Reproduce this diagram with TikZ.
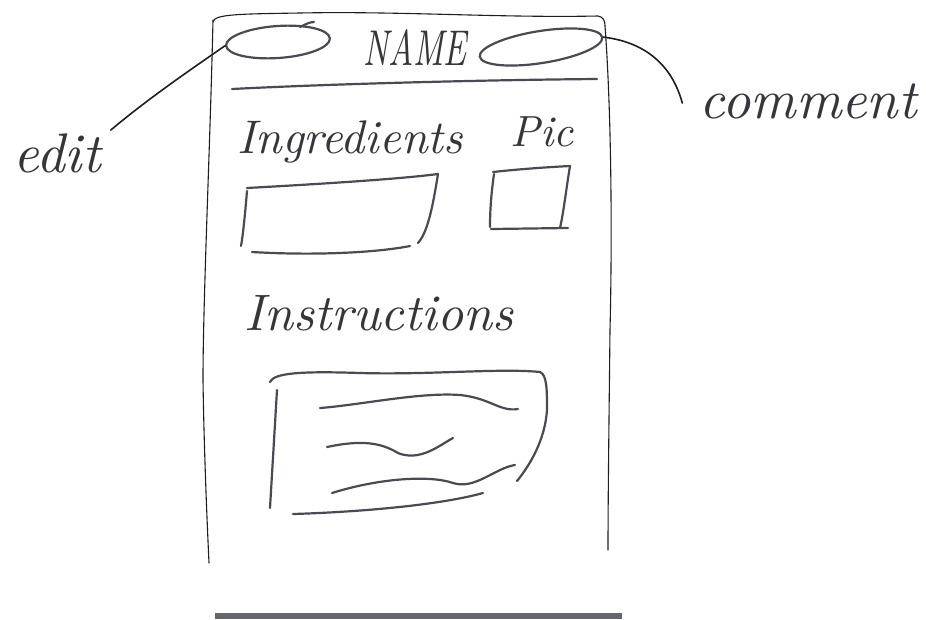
\documentclass[tikz,border=0pt]{standalone}
\usepackage{graphicx}
\usetikzlibrary{shapes.geometric}
\definecolor{ink}{HTML}{1E1E22}
\definecolor{lead}{HTML}{4A4A55}
\definecolor{txt}{HTML}{35353C}
\newcommand\hw[2]{\resizebox{#1}{!}{\itshape #2}}
\tikzset{
  pen/.style={draw=ink, line width=1.1pt, line cap=round, line join=round},
  pencil/.style={draw=lead, line width=2.2pt, line cap=round, line join=round},
  label/.style={text=txt, inner sep=0pt},
  button/.style={ellipse, pencil, inner sep=0pt},
}
\begin{document}
\begin{tikzpicture}[x=1pt,y=-1pt]
\useasboundingbox[fill=white] (0,0) rectangle (926,619);

% phone frame
\draw[pen] (213,22) .. controls (214,14) and (240,14) .. (300,13)
  .. controls (400,11) and (500,18) .. (598,16) .. controls (603,17) and (605,20) .. (605,26);
\draw[pen] (213,20) .. controls (210,150) and (203,300) .. (203,380) .. controls (204,450) and (207,520) .. (209,563);
\draw[pen] (605,26) .. controls (612,120) and (612,250) .. (610,330) .. controls (609,420) and (608,500) .. (608,550);
% bottom bar
\draw[draw=lead!85, line width=6pt] (215,616) -- (622,616);

% header
\node[button, minimum width=104pt, minimum height=32pt, rotate=4] (lbtn) at (278,42) {};
\draw[pencil] (300,27) .. controls (306,24) and (310,22) .. (314,22);
\node[label] (name) at (415,47) {\resizebox{104pt}{36pt}{\itshape NAME}};
\node[button, minimum width=124pt, minimum height=32pt, rotate=9] (rbtn) at (541,47) {};
\draw[pencil] (232,89) .. controls (330,84) and (480,80) .. (597,79);

% callouts
\node[label] (edit) at (57,153) {\hw{87pt}{edit}};
\node[label] (comment) at (808,101) {\hw{217pt}{comment}};
\draw[pen, line width=1.6pt] (edit.north east) ++(10,-3) coordinate (e0)
  (e0) .. controls (150,97) and (196,66) .. (lbtn.west);
\draw[pen, line width=1.6pt] (rbtn.east) .. controls (645,42) and (672,65) .. ([xshift=-17pt,yshift=-2pt]comment.west);

% ingredients and picture
\node[label] (ingr) at (350,142) {\hw{225pt}{Ingredients}};
\node[label] (pic) at (542,132) {\hw{63pt}{Pic}};
\draw[pencil] (247,188) .. controls (320,184) and (400,179) .. (438,174);
\draw[pencil] (438,174) .. controls (433,205) and (428,232) .. (418,243);
\draw[pencil] (247,191) .. controls (245,215) and (243,235) .. (241,246);
\draw[pencil] (252,252) .. controls (320,256) and (380,252) .. (410,246);
\draw[pencil] (493,172) .. controls (520,169) and (550,167) .. (570,166);
\draw[pencil] (570,166) .. controls (566,190) and (564,210) .. (560,228);
\draw[pencil] (494,174) .. controls (491,195) and (490,212) .. (490,227);
\draw[pencil] (491,229) -- (568,228);

% instructions
\node[label] (instr) at (379,313) {\hw{268pt}{Instructions}};
\draw[pencil] (270,382) .. controls (274,373) and (300,371) .. (360,373)
  .. controls (430,375) and (500,368) .. (540,372) .. controls (547,375) and (547,390) .. (547,410)
  .. controls (545,440) and (530,465) .. (517,481);
\draw[pencil] (277,390) -- (270,508);
\draw[pencil] (293,514) .. controls (360,512) and (440,505) .. (483,493);
\draw[pencil] (320,408) .. controls (360,405) and (420,392) .. (460,395)
  .. controls (490,398) and (500,412) .. (518,409);
\draw[pencil] (327,447) .. controls (360,440) and (380,442) .. (398,453)
  .. controls (420,462) and (440,445) .. (453,438);
\draw[pencil] (332,493) .. controls (380,478) and (430,475) .. (453,483)
  .. controls (475,490) and (495,468) .. (515,465);
\end{tikzpicture}
\end{document}
